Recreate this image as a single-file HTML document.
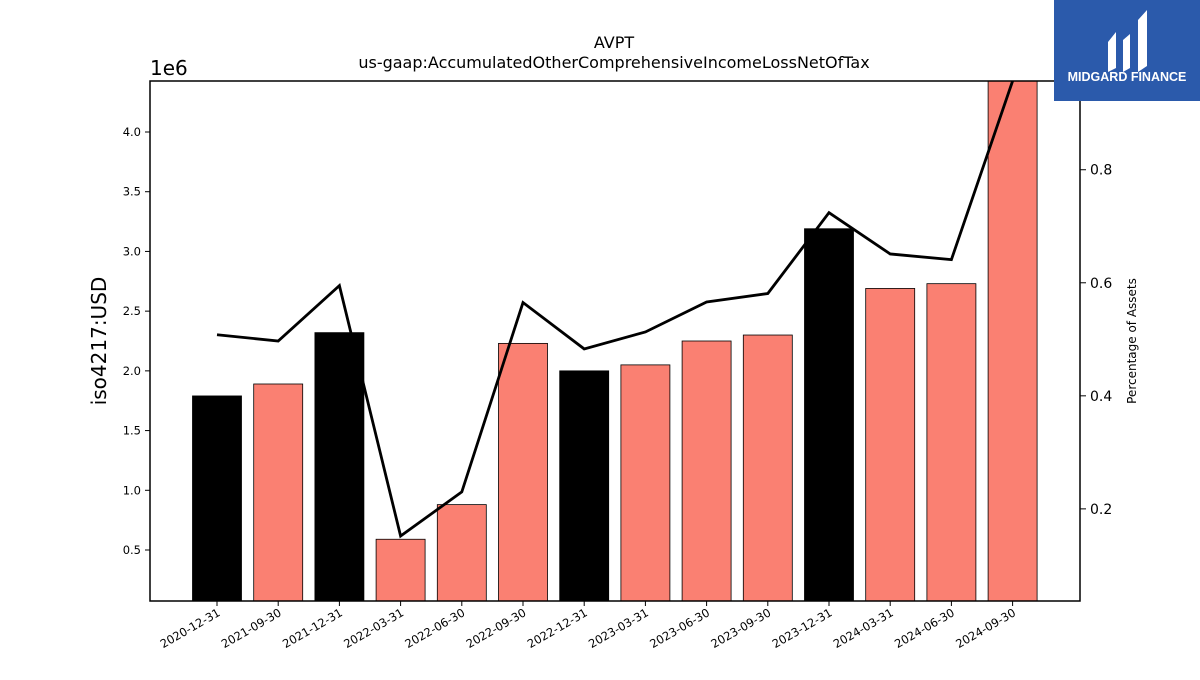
<!DOCTYPE html>
<html><head><meta charset="utf-8"><style>
body{margin:0;background:#fff;font-family:"Liberation Sans","DejaVu Sans",sans-serif}
svg text{font-family:"DejaVu Sans","Liberation Sans",sans-serif}
</style></head><body>
<svg id="c" width="1200" height="675" viewBox="0 0 1200 675" xmlns="http://www.w3.org/2000/svg">
<text x="614" y="48" font-size="16" text-anchor="middle">AVPT</text>
<text x="614" y="68" font-size="16" text-anchor="middle">us-gaap:AccumulatedOtherComprehensiveIncomeLossNetOfTax</text>
<text x="150" y="75" font-size="20">1e6</text>
<text transform="translate(106,341) rotate(-90)" font-size="20" text-anchor="middle">iso4217:USD</text>
<text transform="translate(1136,341) rotate(-90)" font-size="12" text-anchor="middle">Percentage of Assets</text>
<g id="bars"></g><g id="lines"></g><g id="axes"></g>
<rect x="150" y="81" width="930" height="520" fill="none" stroke="#000" stroke-width="1.5"/>
<g>
<rect x="1054" y="0" width="146" height="101" fill="#2b5aab"/>
<path d="M1108 42 L1116 32 L1116 68 L1108 72 Z M1123 40 L1130 34 L1130 68 L1123 72 Z M1138 20 L1147 10 L1147 66 L1138 72 Z" fill="#fff"/>
<text x="1127" y="81" font-size="12.5" font-weight="bold" fill="#fff" text-anchor="middle" style="font-family:'Liberation Sans',sans-serif">MIDGARD FINANCE</text>
</g>
</svg>
<script>
const categories=["2020-12-31","2021-09-30","2021-12-31","2022-03-31","2022-06-30","2022-09-30","2022-12-31","2023-03-31","2023-06-30","2023-09-30","2023-12-31","2024-03-31","2024-06-30","2024-09-30"];
const barValues=[1.79,1.89,2.32,0.59,0.88,2.23,2.00,2.05,2.25,2.30,3.19,2.69,2.73,4.5];
const annual=[1,0,1,0,0,0,1,0,0,0,1,0,0,0];
const pctValues=[0.508,0.497,0.595,0.152,0.230,0.565,0.483,0.513,0.566,0.581,0.724,0.651,0.641,0.96];
const yTicks=[0.5,1.0,1.5,2.0,2.5,3.0,3.5,4.0];
const y2Ticks=[0.2,0.4,0.6,0.8];
const NS="http://www.w3.org/2000/svg";
const L=150,R=1080,T=81,B=601;
const yMin=0.073,yMax=4.427,y2Min=0.037,y2Max=0.957;
const y=v=>B-(v-yMin)/(yMax-yMin)*(B-T);
const y2=v=>B-(v-y2Min)/(y2Max-y2Min)*(B-T);
const step=61.2,x=i=>217+i*step,bw=49;
function mk(t,a,p){const e=document.createElementNS(NS,t);for(const k in a)e.setAttribute(k,a[k]);p.appendChild(e);return e;}
const gb=document.getElementById('bars'),gl=document.getElementById('lines'),ga=document.getElementById('axes');
barValues.forEach((v,i)=>{const top=Math.max(T,y(v));
const r=mk('rect',{x:x(i)-bw/2,y:top,width:bw,height:B-top,fill:annual[i]?'#000':'#fa8072',stroke:'#000','stroke-width':0.8},gb);


const t=mk('line',{x1:x(i),x2:x(i),y1:B,y2:B+5,stroke:'#000'},ga);


const lb=mk('text',{transform:`translate(${x(i)+4},${B+14}) rotate(-30)`,'font-size':11.5,'text-anchor':'end'},ga);
lb.textContent=categories[i];


});
const pl=mk('polyline',{points:pctValues.map((v,i)=>x(i)+','+Math.max(T,y2(v))).join(' '),fill:'none',stroke:'#000','stroke-width':2.8},gl);


yTicks.forEach(v=>{const t=mk('line',{x1:L-5,x2:L,y1:y(v),y2:y(v),stroke:'#000'},ga);


const lb=mk('text',{x:L-9,y:y(v)+4,'font-size':11.5,'text-anchor':'end'},ga);lb.textContent=v.toFixed(1);

});
y2Ticks.forEach(v=>{const t=mk('line',{x1:R,x2:R+6,y1:y2(v),y2:y2(v),stroke:'#000'},ga);


const lb=mk('text',{x:R+10,y:y2(v)+5,'font-size':14},ga);lb.textContent=v.toFixed(1);

});
</script>
</body></html>
